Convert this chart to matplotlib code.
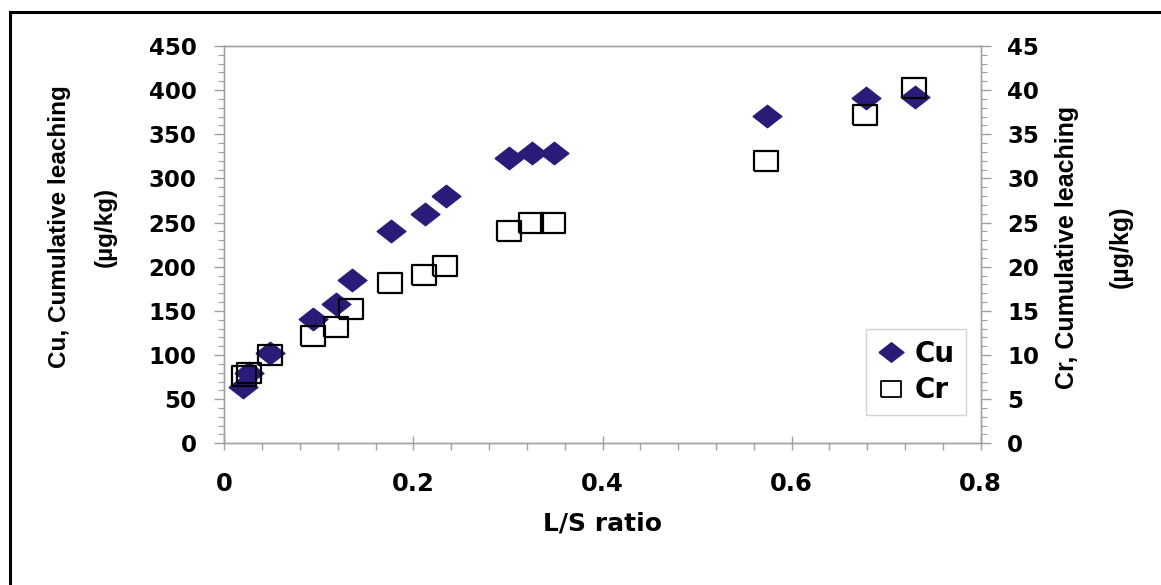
import numpy as np
import matplotlib
matplotlib.use("Agg")
import matplotlib.pyplot as plt
from matplotlib.lines import Line2D
from matplotlib.ticker import MultipleLocator

# Data
ls_cu = [0.020, 0.026, 0.048, 0.094, 0.118, 0.135, 0.176, 0.212, 0.235,
         0.301, 0.325, 0.349, 0.574, 0.679, 0.730]
cu_leach = [64, 80, 102, 141, 158, 185, 240, 260, 280,
            323, 329, 329, 371, 391, 392]

ls_cr = [0.021, 0.026, 0.048, 0.094, 0.118, 0.134, 0.175, 0.211, 0.233,
         0.301, 0.324, 0.348, 0.573, 0.678, 0.729]
cr_leach = [7.6, 8.0, 10.0, 12.2, 13.2, 15.2, 18.1, 19.1, 20.1,
            24.0, 25.0, 25.0, 32.0, 37.2, 40.2]

x_ticks = [0, 0.2, 0.4, 0.6, 0.8]
cu_ticks = list(range(0, 451, 50))
cr_ticks = list(range(0, 46, 5))

navy = '#2b1b78'
axis_gray = '#a0a0a0'
tick_font = dict(family='DejaVu Sans', weight='bold')

# wide-ish diamond and rectangle, like the stretched Excel markers
diamond = [(-1, 0), (0, 0.78), (1, 0), (0, -0.78), (-1, 0)]
rect = [(-1, -0.8), (1, -0.8), (1, 0.8), (-1, 0.8), (-1, -0.8)]

fig = plt.figure(figsize=(11.61, 5.85), dpi=100)
ax = fig.add_axes([0.1932, 0.2422, 0.6515, 0.6792])
ax2 = ax.twinx()

ax.plot(ls_cu, cu_leach, linestyle='none', marker=diamond, markersize=21,
        markerfacecolor=navy, markeredgecolor=navy, markeredgewidth=0.8, zorder=3)
ax2.plot(ls_cr, cr_leach, linestyle='none', marker=rect, markersize=17.5,
         markerfacecolor='none', markeredgecolor='black', markeredgewidth=1.6, zorder=3)

ax.set_xlim(0, 0.8)
ax.set_ylim(0, 450)
ax2.set_ylim(0, 45)
ax.set_xticks(x_ticks)
ax.set_xticklabels(['0', '0.2', '0.4', '0.6', '0.8'])
ax.set_yticks(cu_ticks)
ax2.set_yticks(cr_ticks)
ax.xaxis.set_minor_locator(MultipleLocator(0.04))
ax.yaxis.set_minor_locator(MultipleLocator(10))
ax2.yaxis.set_minor_locator(MultipleLocator(1))

for a in (ax, ax2):
    for sp in a.spines.values():
        sp.set_color(axis_gray)
        sp.set_linewidth(1.0)

ax.tick_params(axis='x', which='major', direction='inout', length=10, width=1,
               color=axis_gray, pad=16, labelsize=17.5)
ax.tick_params(axis='x', which='minor', direction='out', length=5, width=1,
               color=axis_gray)
ax.tick_params(axis='y', which='major', direction='out', length=7, width=1,
               color=axis_gray, pad=13, labelsize=16.5)
ax.tick_params(axis='y', which='minor', direction='out', length=4, width=0.8,
               color=axis_gray)
ax2.tick_params(axis='y', which='major', direction='out', length=7, width=1,
                color=axis_gray, pad=12, labelsize=16.5)
ax2.tick_params(axis='y', which='minor', direction='out', length=4, width=0.8,
                color=axis_gray)
for lab in ax.get_xticklabels() + ax.get_yticklabels() + ax2.get_yticklabels():
    lab.set_fontfamily('DejaVu Sans')
    lab.set_fontweight('bold')

ax.set_xlabel('L/S ratio', fontsize=18, labelpad=11, **tick_font)

# two-line y labels, placed line by line
lab_font = dict(family='Liberation Sans', weight='bold', rotation=90,
                ha='center', va='center')
fig.text(60 / 1161, 1 - 227 / 585, 'Cu, Cumulative leaching', fontsize=17.5, **lab_font)
fig.text(105 / 1161, 1 - 227 / 585, '(µg/kg)', fontsize=17.5, **lab_font)
fig.text(1067 / 1161, 1 - 247 / 585, 'Cr, Cumulative leaching', fontsize=18, **lab_font)
fig.text(1121 / 1161, 1 - 247 / 585, '(µg/kg)', fontsize=18, **lab_font)

# legend with slightly smaller proxy markers
handles = [
    Line2D([], [], linestyle='none', marker=diamond, markersize=18,
           markerfacecolor=navy, markeredgecolor=navy, label='Cu'),
    Line2D([], [], linestyle='none', marker=rect, markersize=15,
           markerfacecolor='none', markeredgecolor='black', markeredgewidth=1.3,
           label='Cr'),
]
leg = ax2.legend(handles=handles, loc='upper right', bbox_to_anchor=(0.9806, 0.288),
                 borderaxespad=0, frameon=True, fancybox=False, handlelength=1.0,
                 handletextpad=0.35, labelspacing=0.3, borderpad=0.4,
                 prop=dict(family='DejaVu Sans', weight='bold', size=20))
leg.get_frame().set_edgecolor('#c8c8c8')
leg.get_frame().set_linewidth(1.0)

# black frame on the left and top of the picture
fig.add_artist(Line2D([10 / 1161, 10 / 1161], [0, 1 - 12 / 585], color='black',
                      linewidth=2.2, transform=fig.transFigure))
fig.add_artist(Line2D([10 / 1161, 1], [1 - 12 / 585, 1 - 12 / 585], color='black',
                      linewidth=2.2, transform=fig.transFigure))

fig.savefig('out.png', dpi=100)
